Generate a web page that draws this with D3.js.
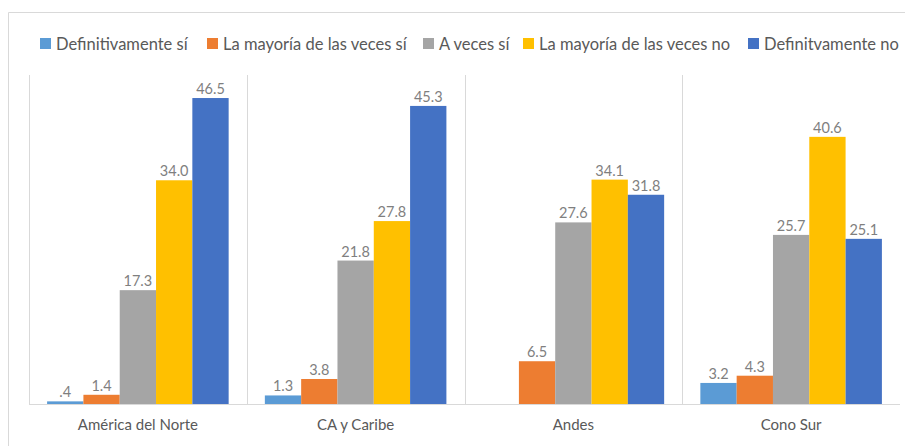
<html>
<head>
<script src="https://d3js.org/d3.v7.min.js"></script>
<style>
  body { margin: 0; background: white; }
  text { font-family: Lato, "Open Sans", sans-serif; fill: #595959; }
</style>
</head>
<body>
<svg id="chart" width="905" height="446"></svg>
<script>
// data
const regions = ["América del Norte", "CA y Caribe", "Andes", "Cono Sur"];
const series = ["Definitivamente sí", "La mayoría de las veces sí", "A veces sí", "La mayoría de las veces no", "Definitvamente no"];
const colors = ["#5B9BD5", "#ED7D31", "#A5A5A5", "#FFC000", "#4472C4"];
const defSi   = [0.4, 1.3, null, 3.2];
const mayoriaSi = [1.4, 3.8, 6.5, 4.3];
const aVeces  = [17.3, 21.8, 27.6, 25.7];
const mayoriaNo = [34.0, 27.8, 34.1, 40.6];
const defNo   = [46.5, 45.3, 31.8, 25.1];
const values = [defSi, mayoriaSi, aVeces, mayoriaNo, defNo];

const svg = d3.select("svg#chart");

// outer frame (only top and left visible in the shot)
svg.append("line").attr("x1", 8.5).attr("x2", 905).attr("y1", 12.5).attr("y2", 12.5)
   .attr("stroke", "#d9d9d9");
svg.append("line").attr("x1", 8.5).attr("x2", 8.5).attr("y1", 12.5).attr("y2", 446)
   .attr("stroke", "#d9d9d9");

const x0 = d3.scaleBand().domain(regions).range([29, 900]);
// group of 5 bars leaves ~18px on each side of a category
const x1 = d3.scaleBand().domain(series).range([18.1, x0.bandwidth() - 18.1]);
const y = d3.scaleLinear().domain([0, 50]).range([404, 75]);

// vertical category separators
const seps = regions.map(r => x0(r));
svg.selectAll("line.sep").data(seps).join("line").attr("class", "sep")
   .attr("x1", d => Math.round(d) + 0.5).attr("x2", d => Math.round(d) + 0.5)
   .attr("y1", y(50)).attr("y2", y(0))
   .attr("stroke", "#d9d9d9");

const fmt = v => d3.format(".1f")(v).replace(/^0\./, ".");

const rows = [];
regions.forEach((r, i) => {
  series.forEach((s, j) => {
    if (values[j][i] != null) rows.push({ r, s, j, v: values[j][i] });
  });
});

svg.append("g").selectAll("rect").data(rows).join("rect")
   .attr("x", d => x0(d.r) + x1(d.s))
   .attr("width", x1.bandwidth())
   .attr("y", d => y(d.v))
   .attr("height", d => y(0) - y(d.v))
   .attr("fill", d => colors[d.j]);

svg.append("g").selectAll("text").data(rows).join("text")
   .attr("x", d => x0(d.r) + x1(d.s) + x1.bandwidth() / 2)
   .attr("y", d => y(d.v) - 4)
   .attr("text-anchor", "middle")
   .attr("font-size", 14.5)
   .style("fill", "#7f7f7f")
   .text(d => fmt(d.v));

// baseline
svg.append("line").attr("x1", 29).attr("x2", 900).attr("y1", 404.5).attr("y2", 404.5)
   .attr("stroke", "#d9d9d9");

// category axis
const xAxis = svg.append("g").attr("transform", "translate(0,404)")
   .call(d3.axisBottom(x0).tickSize(0).tickPadding(15));
xAxis.select(".domain").remove();
xAxis.selectAll("text").attr("font-size", 15).style("font-family", "Lato, sans-serif").style("fill", "#595959");

// legend
const legX = [40, 207, 423, 523, 748];
const leg = svg.append("g").selectAll("g").data(series).join("g")
   .attr("transform", (d, i) => `translate(${legX[i]},38)`);
leg.append("rect").attr("width", 11).attr("height", 11).attr("fill", (d, i) => colors[i]);
leg.append("text").attr("x", 16).attr("y", 11.5).attr("font-size", 16.5).text(d => d);
</script>
</body>
</html>
